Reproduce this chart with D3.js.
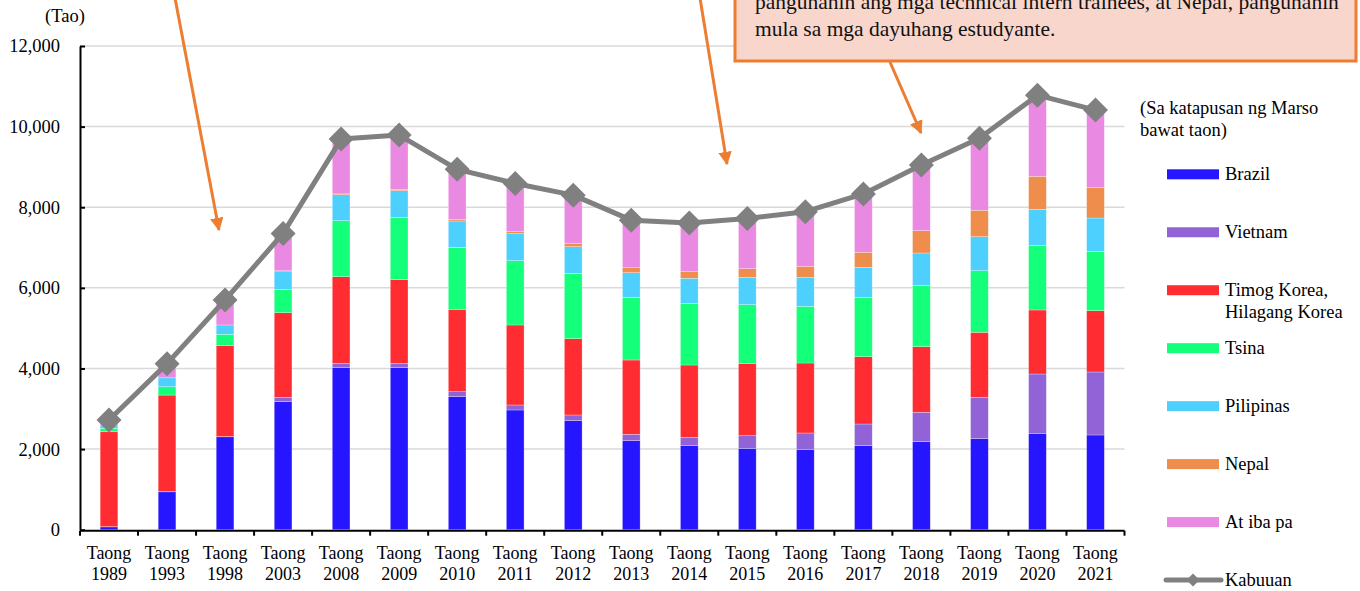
<!DOCTYPE html>
<html>
<head>
<meta charset="utf-8">
<script src="https://cdn.jsdelivr.net/npm/d3@7"></script>
<style>
  html, body { margin: 0; padding: 0; background: #fff; }
  svg { display: block; font-family: "Liberation Serif", "Times New Roman", serif; }
</style>
</head>
<body>
<svg id="chart" width="1360" height="591"></svg>
<script>
// ---------- DATA ----------
const categories = ["1989","1993","1998","2003","2008","2009","2010","2011","2012","2013","2014","2015","2016","2017","2018","2019","2020","2021"];
const catPrefix = "Taong";
const brazil      = [70, 940, 2305, 3176, 4019, 4019, 3300, 2970, 2705, 2208, 2084, 2019, 1994, 2084, 2183, 2258, 2392, 2350];
const vietnam     = [5, 5, 5, 109, 109, 109, 124, 124, 141, 159, 208, 313, 405, 538, 730, 1027, 1471, 1563];
const korea       = [2355, 2395, 2255, 2099, 2149, 2075, 2044, 1985, 1893, 1843, 1794, 1786, 1737, 1670, 1627, 1612, 1588, 1520];
const china       = [85, 206, 283, 580, 1389, 1547, 1538, 1595, 1622, 1556, 1521, 1464, 1406, 1474, 1514, 1529, 1595, 1464];
const philippines = [85, 223, 231, 454, 645, 661, 653, 670, 660, 610, 630, 680, 720, 744, 811, 843, 903, 836];
const nepal       = [0, 0, 0, 5, 20, 30, 42, 50, 85, 124, 164, 213, 273, 372, 553, 655, 819, 762];
const others      = [120, 350, 620, 930, 1359, 1349, 1239, 1196, 1194, 1180, 1209, 1245, 1355, 1448, 1632, 1786, 2012, 1915];
const total       = [2720, 4120, 5700, 7350, 9690, 9790, 8940, 8590, 8300, 7680, 7610, 7720, 7890, 8330, 9050, 9710, 10780, 10410];
const yTicks = [0, 2000, 4000, 6000, 8000, 10000, 12000];

const seriesKeys   = ["brazil","vietnam","korea","china","philippines","nepal","others"];
const seriesLabels = [["Brazil"],["Vietnam"],["Timog Korea,","Hilagang Korea"],["Tsina"],["Pilipinas"],["Nepal"],["At iba pa"]];
const seriesColors = ["#2616FF","#9163D6","#FF2D31","#14FF7A","#4ED0FF","#EF8E4C","#EA89E2"];
const totalLabel = "Kabuuan";
const unitLabel = "(Tao)";
const noteLines = ["(Sa katapusan ng Marso","bawat taon)"];
const calloutLines = ["pangunahin ang mga technical intern trainees, at Nepal, pangunahin","mula sa mga dayuhang estudyante."];

// ---------- LAYOUT ----------
const svg = d3.select("#chart");
const plotLeft = 80, plotRight = 1124.5, plotTop = 46, plotBottom = 529.7;

const x = d3.scaleBand().domain(categories).range([plotLeft, plotRight]).paddingInner(0.695).paddingOuter(0.3475);
const y = d3.scaleLinear().domain([0, 12000]).range([plotBottom, plotTop]);

const table = categories.map((c, i) => ({
  cat: c, brazil: brazil[i], vietnam: vietnam[i], korea: korea[i], china: china[i],
  philippines: philippines[i], nepal: nepal[i], others: others[i], total: total[i]
}));
const stacked = d3.stack().keys(seriesKeys)(table);

// gridlines
svg.append("g").selectAll("line").data(yTicks.filter(d => d > 0)).join("line")
  .attr("x1", plotLeft).attr("x2", plotRight)
  .attr("y1", d => y(d)).attr("y2", d => y(d))
  .attr("stroke", "#d9d9d9").attr("stroke-width", 1.5);

// bars
svg.append("g").selectAll("g").data(stacked).join("g")
  .attr("fill", (d, i) => seriesColors[i])
  .selectAll("rect").data(d => d).join("rect")
  .attr("x", d => x(d.data.cat))
  .attr("width", x.bandwidth())
  .attr("y", d => y(d[1]))
  .attr("height", d => Math.max(0, y(d[0]) - y(d[1])))
  .attr("stroke", "rgba(255,255,255,0.45)").attr("stroke-width", 0.6);

// y axis
const yAxis = d3.axisLeft(y).tickValues(yTicks).tickSizeInner(-5).tickSizeOuter(0)
  .tickFormat(d3.format(",")).tickPadding(20);
const gy = svg.append("g").attr("transform", `translate(${plotLeft},0)`).call(yAxis);
gy.select(".domain").attr("stroke", "#000").attr("stroke-width", 2);
gy.selectAll(".tick line").attr("stroke", "#000").attr("stroke-width", 2);
gy.selectAll(".tick text").attr("font-size", 18.5).attr("fill", "#000")
  .attr("font-family", "Liberation Serif, Times New Roman, serif");

// x axis
const xTickPos = categories.map(c => x(c) - x.step() * x.paddingInner() / 2).concat([plotRight]);
const gx = svg.append("g");
gx.append("line").attr("x1", plotLeft).attr("x2", plotRight).attr("y1", plotBottom + 1).attr("y2", plotBottom + 1)
  .attr("stroke", "#000").attr("stroke-width", 2);
gx.selectAll("line.tk").data(xTickPos).join("line").attr("class", "tk")
  .attr("x1", d => d).attr("x2", d => d).attr("y1", plotBottom + 1).attr("y2", plotBottom + 6)
  .attr("stroke", "#000").attr("stroke-width", 2);
const xl = gx.selectAll("text").data(categories).join("text")
  .attr("text-anchor", "middle").attr("font-size", 18).attr("fill", "#000");
xl.append("tspan").attr("x", d => x(d) + x.bandwidth() / 2).attr("y", 558.5).text(catPrefix);
xl.append("tspan").attr("x", d => x(d) + x.bandwidth() / 2).attr("y", 580).text(d => d);

// unit label
svg.append("text").attr("x", 45).attr("y", 22).attr("font-size", 18.5).attr("fill", "#000").text(unitLabel);

// total line + markers
const cx = d => x(d.cat) + x.bandwidth() / 2;
svg.append("path").datum(table)
  .attr("fill", "none").attr("stroke", "#808080").attr("stroke-width", 5).attr("stroke-linejoin", "round")
  .attr("d", d3.line().x(cx).y(d => y(d.total)));
const diamond = (r) => `M0,${-r}L${r},0L0,${r}L${-r},0Z`;
svg.append("g").selectAll("path").data(table).join("path")
  .attr("transform", d => `translate(${cx(d)},${y(d.total)})`)
  .attr("d", diamond(12.5)).attr("fill", "#808080");

// legend
const lg = svg.append("g");
lg.selectAll("text.note").data(noteLines).join("text").attr("class", "note")
  .attr("x", 1140).attr("y", (d, i) => 114 + i * 22).attr("font-size", 18.5).attr("fill", "#000").text(d => d);
const legendY = i => 174.3 + i * 57.96;
seriesKeys.forEach((k, i) => {
  lg.append("rect").attr("x", 1167).attr("y", legendY(i) - 5).attr("width", 52).attr("height", 10)
    .attr("fill", seriesColors[i]);
  seriesLabels[i].forEach((t, j) => {
    lg.append("text").attr("x", 1225).attr("y", legendY(i) + 6 + j * 22)
      .attr("font-size", 18.5).attr("fill", "#000").text(t);
  });
});
const ky = legendY(7);
lg.append("line").attr("x1", 1166).attr("x2", 1221).attr("y1", ky).attr("y2", ky)
  .attr("stroke", "#808080").attr("stroke-width", 5).attr("stroke-linecap", "round");
lg.append("path").attr("transform", `translate(1193,${ky})`).attr("d", diamond(6.5)).attr("fill", "#808080");
lg.append("text").attr("x", 1225).attr("y", ky + 6).attr("font-size", 18.5).attr("fill", "#000").text(totalLabel);

// annotations
const orange = "#ED7D31";
const defs = svg.append("defs");
defs.append("marker").attr("id", "ah").attr("viewBox", "0 0 10 10").attr("refX", 9).attr("refY", 5)
  .attr("markerWidth", 4.5).attr("markerHeight", 4.5).attr("orient", "auto").attr("markerUnits", "strokeWidth")
  .append("path").attr("d", "M0,0L10,5L0,10Z").attr("fill", orange);
const arrows = [
  [175, -2, 219, 230],
  [700, -2, 727, 164],
  [890, 62, 921, 133]
];
svg.append("g").selectAll("line").data(arrows).join("line")
  .attr("x1", d => d[0]).attr("y1", d => d[1]).attr("x2", d => d[2]).attr("y2", d => d[3])
  .attr("stroke", orange).attr("stroke-width", 3).attr("marker-end", "url(#ah)");

svg.append("rect").attr("x", 735).attr("y", -40).attr("width", 621).attr("height", 101)
  .attr("fill", "#F8D6CB").attr("stroke", orange).attr("stroke-width", 3);
svg.append("g").selectAll("text").data(calloutLines).join("text")
  .attr("x", 755).attr("y", (d, i) => 9 + i * 27).attr("font-size", 21.5).attr("fill", "#111").text(d => d);
</script>
</body>
</html>
